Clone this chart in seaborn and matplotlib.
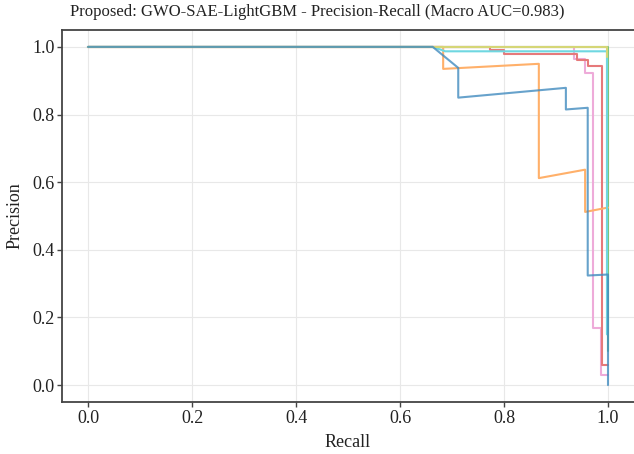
import matplotlib
matplotlib.use("Agg")
import matplotlib.pyplot as plt
import matplotlib.colors as mcolors
import seaborn as sns
import pandas as pd

# Per-class precision-recall curves (recall, precision pairs in drawing order)
pink_recall = [0.0, 0.935, 0.935, 0.955, 0.955, 0.972, 0.972, 0.986, 0.986, 1.0]
pink_precision = [1.0, 1.0, 0.965, 0.965, 0.924, 0.924, 0.17, 0.17, 0.03, 0.03]

red_recall = [0.0, 0.773, 0.773, 0.80, 0.80, 0.94, 0.94, 0.962, 0.962, 0.988, 0.988, 1.0]
red_precision = [1.0, 1.0, 0.99, 0.99, 0.978, 0.978, 0.962, 0.962, 0.945, 0.945, 0.06, 0.06]

green_recall = [0.0, 1.0, 1.0]
green_precision = [1.0, 1.0, 0.10]

orange_recall = [0.0, 0.683, 0.683, 0.867, 0.867, 0.956, 0.956, 1.0]
orange_precision = [1.0, 1.0, 0.935, 0.95, 0.612, 0.637, 0.512, 0.525]

cyan_recall = [0.0, 0.663, 0.687, 0.998, 0.998]
cyan_precision = [1.0, 1.0, 0.987, 0.987, 0.15]

olive_recall = [0.0, 0.998, 0.998]
olive_precision = [1.0, 1.0, 0.97]

blue_recall = [0.0, 0.663, 0.712, 0.712, 0.919, 0.919, 0.961, 0.961, 1.0, 1.0]
blue_precision = [1.0, 1.0, 0.938, 0.85, 0.879, 0.815, 0.82, 0.324, 0.327, 0.0]

class_names = ["pink", "red", "green", "orange", "cyan", "olive", "blue"]
class_colors = ["tab:pink", "tab:red", "tab:green", "tab:orange",
                "tab:cyan", "tab:olive", "tab:blue"]
curves = {
    "pink": (pink_recall, pink_precision),
    "red": (red_recall, red_precision),
    "green": (green_recall, green_precision),
    "orange": (orange_recall, orange_precision),
    "cyan": (cyan_recall, cyan_precision),
    "olive": (olive_recall, olive_precision),
    "blue": (blue_recall, blue_precision),
}

rows = []
for name in class_names:
    rec, prec = curves[name]
    for i, (r, p) in enumerate(zip(rec, prec)):
        rows.append({"cls": name, "order": i, "Recall": r, "Precision": p})
df = pd.DataFrame(rows)


def soften(color, amount=0.6):
    """Blend a colour towards white so lines read as light, semi-muted strokes."""
    r, g, b = mcolors.to_rgb(color)
    return (r * amount + (1 - amount), g * amount + (1 - amount), b * amount + (1 - amount))


sns.set_theme(style="whitegrid")
plt.rcParams["font.family"] = ["Liberation Serif", "DejaVu Serif"]
plt.rcParams["axes.unicode_minus"] = False

fig = plt.figure(figsize=(6.34, 4.54), dpi=100)
ax = fig.add_axes([62 / 634, 52 / 454, (634 - 62) / 634, (424 - 52) / 454])

for name, color in zip(class_names, class_colors):
    sub = df[df["cls"] == name]
    alpha = 0.8 if name == "blue" else 1.0
    sns.lineplot(data=sub, x="Recall", y="Precision", sort=False,
                 estimator=None, color=soften(color, 0.62 if name != "blue" else 0.85),
                 alpha=alpha, linewidth=1.5, ax=ax, legend=False)

ax.set_xlim(-0.05, 1.05)
ax.set_ylim(-0.05, 1.05)
ax.set_xticks([0.0, 0.2, 0.4, 0.6, 0.8, 1.0])
ax.set_yticks([0.0, 0.2, 0.4, 0.6, 0.8, 1.0])
ax.set_xticklabels(["0.0", "0.2", "0.4", "0.6", "0.8", "1.0"])
ax.set_yticklabels(["0.0", "0.2", "0.4", "0.6", "0.8", "1.0"])

ax.grid(True, color="#e8e8e8", linewidth=0.8)
for side in ["left", "bottom", "top"]:
    ax.spines[side].set_visible(True)
    ax.spines[side].set_color("#444444")
    ax.spines[side].set_linewidth(1.3)
ax.spines["right"].set_visible(False)

ax.tick_params(axis="both", which="major", direction="out", length=3.5,
               width=1.0, color="#444444", labelsize=13, labelcolor="#222222",
               left=True, bottom=True, pad=2)

ax.set_xlabel("Recall", fontsize=13, color="#222222", labelpad=5)
ax.set_ylabel("Precision", fontsize=13, color="#222222", labelpad=6)
fig.text(0.5, 1 - 12 / 454,
         "Proposed: GWO-SAE-LightGBM - Precision-Recall (Macro AUC=0.983)",
         ha="center", va="center", fontsize=12, color="#222222")

fig.savefig("out.png", dpi=100)
